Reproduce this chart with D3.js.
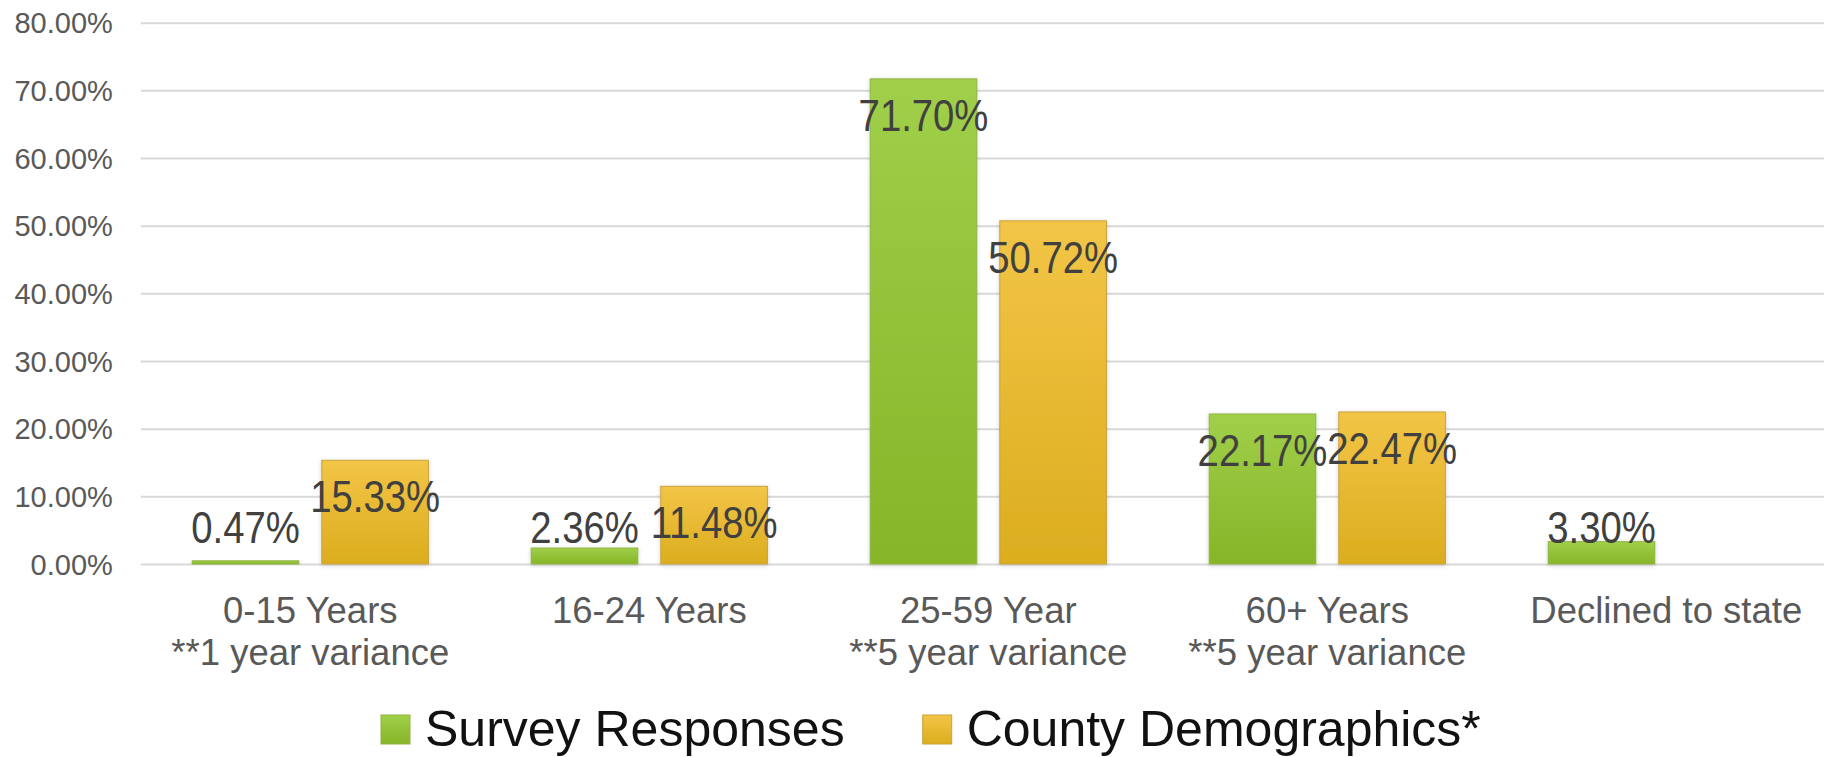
<!DOCTYPE html>
<html>
<head>
<meta charset="utf-8">
<script src="https://cdn.jsdelivr.net/npm/d3@7/dist/d3.min.js"></script>
<style>
  html, body { margin: 0; padding: 0; background: #ffffff; overflow: hidden; }
  svg { display: block; }
</style>
</head>
<body>
<svg id="chart" width="1824" height="757"></svg>
<script>
// ---- data ----
const categories = ["0-15 Years", "16-24 Years", "25-59 Year", "60+ Years", "Declined to state"];
const categorySubLabels = ["**1 year variance", "", "**5 year variance", "**5 year variance", ""];
const seriesNames = ["Survey Responses", "County Demographics*"];
const surveyResponses = [0.0047, 0.0236, 0.7170, 0.2217, 0.0330];
const countyDemographics = [0.1533, 0.1148, 0.5072, 0.2247, null];
const yTicks = [0, 0.1, 0.2, 0.3, 0.4, 0.5, 0.6, 0.7, 0.8];

const seriesValues = [surveyResponses, countyDemographics];
const rows = [];
categories.forEach((c, i) => {
  seriesNames.forEach((s, j) => {
    const v = seriesValues[j][i];
    if (v !== null && v !== undefined) rows.push({ category: c, series: s, value: v, si: j });
  });
});

const svg = d3.select("#chart");
const defs = svg.append("defs");

const grads = [
  { id: "gGreen", top: "#a0cf4a", bottom: "#86b528" },
  { id: "gOrange", top: "#f3c547", bottom: "#dbad1e" }
];
grads.forEach(g => {
  const lg = defs.append("linearGradient").attr("id", g.id)
    .attr("x1", 0).attr("y1", 0).attr("x2", 0).attr("y2", 1);
  lg.append("stop").attr("offset", "0%").attr("stop-color", g.top);
  lg.append("stop").attr("offset", "100%").attr("stop-color", g.bottom);
});
const strokes = ["#8fb440", "#c8a23c"];

const f = defs.append("filter").attr("id", "shadow")
  .attr("x", "-20%").attr("y", "-20%").attr("width", "140%").attr("height", "140%");
f.append("feDropShadow").attr("dx", 0).attr("dy", 1).attr("stdDeviation", 2)
  .attr("flood-color", "#000").attr("flood-opacity", 0.18);

const x = d3.scaleBand().domain(categories).range([140.8, 1835.8]).paddingInner(0).paddingOuter(0);
const xs = d3.scaleBand().domain(seriesNames).range([51.4, x.bandwidth() - 51.4]).paddingInner(0.1775).paddingOuter(0);
const y = d3.scaleLinear().domain([0, 0.8]).range([564, 22.7]);

const FONT = "'Liberation Sans', Arial, sans-serif";

// gridlines + y axis labels
const yAxis = d3.axisLeft(y).tickValues(yTicks).tickSize(-(1835.8 - 140.8))
  .tickFormat(d => (d * 100).toFixed(2) + "%").tickPadding(28);
const ga = svg.append("g").attr("transform", "translate(140.8,0)").call(yAxis);
ga.select(".domain").remove();
ga.selectAll(".tick line").attr("stroke", "#d9d9d9").attr("stroke-width", 2);
ga.selectAll(".tick text").attr("fill", "#595959").style("font-family", FONT)
  .style("font-size", "29px").attr("dy", "0.35em");

// bars
const bars = svg.append("g");
bars.selectAll("rect").data(rows).join("rect")
  .attr("x", d => x(d.category) + xs(d.series))
  .attr("y", d => y(d.value))
  .attr("width", xs.bandwidth())
  .attr("height", d => y(0) - y(d.value))
  .attr("fill", d => "url(#" + grads[d.si].id + ")")
  .attr("stroke", d => strokes[d.si])
  .attr("stroke-width", 1)
  .attr("filter", "url(#shadow)");

// data labels
const labels = svg.append("g");
labels.selectAll("text").data(rows).join("text")
  .attr("transform", d => {
    const cx = x(d.category) + xs(d.series) + xs.bandwidth() / 2;
    const by = Math.min(y(d.value) + 52, 543);
    return "translate(" + cx + "," + by + ") scale(0.87,1)";
  })
  .attr("text-anchor", "middle")
  .attr("fill", "#404040")
  .style("font-family", FONT)
  .style("font-size", "44px")
  .text(d => (d.value * 100).toFixed(2) + "%");

// category labels
const xAxisG = svg.append("g");
categories.forEach((c, i) => {
  const cx = x(c) + x.bandwidth() / 2;
  const t = xAxisG.append("text")
    .attr("text-anchor", "middle").attr("fill", "#595959")
    .style("font-family", FONT).style("font-size", "36.5px");
  t.append("tspan").attr("x", cx).attr("y", 622.7).text(c);
  if (categorySubLabels[i]) t.append("tspan").attr("x", cx).attr("y", 665).text(categorySubLabels[i]);
});

// legend
const legendX = [381, 922.7];
const leg = svg.append("g");
seriesNames.forEach((s, j) => {
  leg.append("rect").attr("x", legendX[j]).attr("y", 715).attr("width", 29).attr("height", 29)
    .attr("fill", "url(#" + grads[j].id + ")").attr("stroke", strokes[j]).attr("stroke-width", 1);
  leg.append("text").attr("x", legendX[j] + 44).attr("y", 746)
    .attr("fill", "#111").style("font-family", FONT).style("font-size", "50px").text(s);
});
</script>
</body>
</html>
